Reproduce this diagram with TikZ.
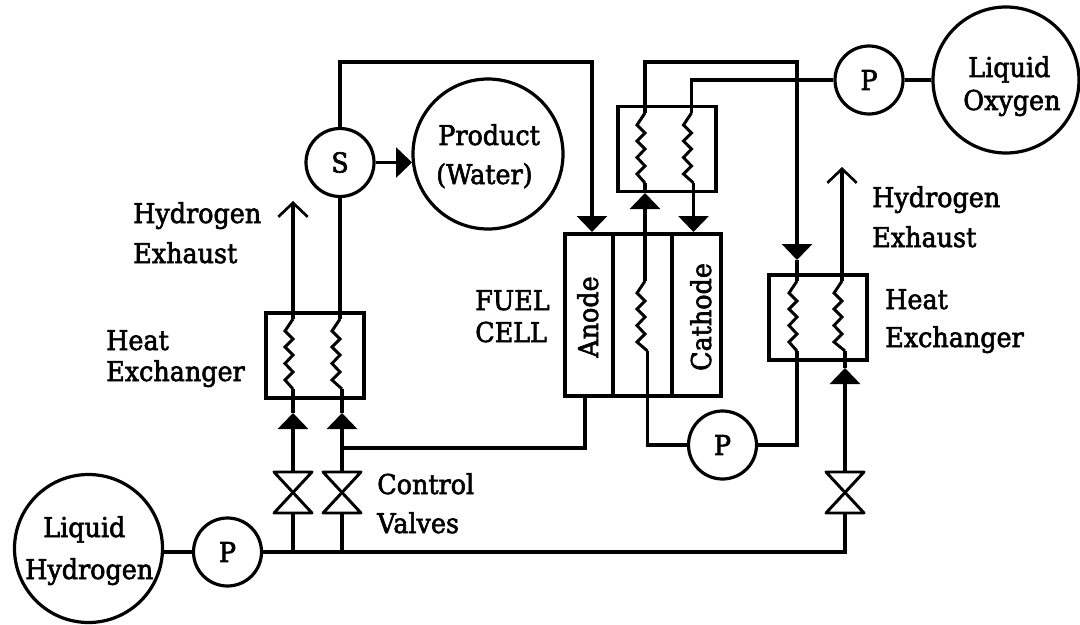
\documentclass[tikz,border=0pt]{standalone}
\usepackage{fontspec}
\setmainfont{DejaVu Serif}[FakeStretch=0.93,FakeBold=2.2]
\usetikzlibrary{arrows.meta}
\tikzset{
  wire/.style={line width=2.4pt,line join=miter},
  flow/.style={wire,-{Triangle[length=12pt,width=22.5pt,sep=0pt]}},
  vent/.style={wire,-{Straight Barb[length=10.5pt,width=22pt,line width=2pt]}},
  round/.style={draw,circle,line width=2.4pt,inner sep=0pt,minimum size=#1*0.75pt},
  boxed/.style={draw,rectangle,line width=2.4pt,inner sep=0pt},
  lbl/.style={inner sep=0pt,anchor=base west,font=\fontsize{20.5}{24}\selectfont},
  mid/.style={inner sep=0pt,align=center,font=\fontsize{20.5}{24}\selectfont},
  vlbl/.style={inner sep=0pt,rotate=90,anchor=base,font=\fontsize{20.5}{24}\selectfont},
}
\newcommand{\coilpath}[4]{% name, x in, x out, y start
  \coordinate (#1-in) at (#2,#4);
  \coordinate (#1-out) at (#3,#4+70);
  \draw[wire,line width=2.2pt] (#1-in) -- (#2-8,#4+12) -- (#2,#4+20) -- (#2-8,#4+28) -- (#2,#4+36)
    -- (#2-8,#4+44.5) -- (#2,#4+53) -- (#2-8,#4+61) -- (#1-out);}
\newcommand{\valvepath}[2]{% name, x
  \coordinate (#1-t) at (#2,472);
  \coordinate (#1-b) at (#2,513);
  \draw[wire,line width=2.2pt,line join=round] (#2-19,472) -- (#2+19,472) -- (#2-19,513) -- (#2+19,513) -- cycle;}
\begin{document}
\begin{tikzpicture}[x=0.75pt,y=-0.75pt]
\useasboundingbox (0,0) rectangle (1080,624);
% round items
\node[round=68] (S) at (340,162.5) {};
\node[round=150,mid] (water) at (488,154) {};
\node[round=68] (PO) at (869,80) {};
\node[round=146] (LO) at (1006,80) {};
\node[round=148] (LH) at (88.5,548.5) {};
\node[round=68] (PH) at (227.5,552) {};
\node[round=68] (PC) at (722.5,445) {};
% boxes
\node[boxed,minimum width=73.5pt,minimum height=63.75pt] (hxL) at (315,355.5) {};
\node[boxed,minimum width=73.5pt,minimum height=63.75pt] (hxT) at (667,149) {};
\node[boxed,minimum width=73.5pt,minimum height=63.75pt] (hxR) at (818,317.5) {};
\node[boxed,minimum width=36pt,minimum height=121.5pt] (anode) at (589,315) {};
\node[boxed,minimum width=44.25pt,minimum height=121.5pt] (middle) at (642.5,315) {};
\node[boxed,minimum width=36.75pt,minimum height=121.5pt] (cathode) at (696.5,315) {};
% coils and valves
\coilpath{cLa}{293}{293}{319}
\coilpath{cLb}{340}{342}{319}
\coilpath{cTa}{645}{645}{113}
\coilpath{cTb}{691.5}{693.5}{113}
\coilpath{cM}{645}{647.5}{281}
\coilpath{cRa}{797}{797}{281}
\coilpath{cRb}{842}{845}{281}
\valvepath{v1}{293}
\valvepath{v2}{342}
\valvepath{v3}{845}
% helper points
\coordinate (tipL1) at (293,413);
\coordinate (tipL2) at (342,413);
\coordinate (tipA) at (592,232);
\coordinate (tipC) at (693.5,232);
\coordinate (tipM) at (645,193);
\coordinate (tipR1) at (797,260);
\coordinate (tipR2) at (845,368);
\coordinate (tipW) at (412,162.5);
\coordinate (ventL) at (293,201);
\coordinate (ventR) at (842,167);
\coordinate (j1) at (293,552);
\coordinate (j2) at (342,552);
\coordinate (j3) at (845,552);
\coordinate (j4) at (342,448);
\coordinate (j5) at (585,448);
\coordinate (j6) at (585,396);
\coordinate (t1) at (340,62);
\coordinate (t2) at (592,62);
\coordinate (t3) at (645,62);
\coordinate (t4) at (797,62);
\coordinate (o1) at (691.5,80);
\coordinate (p1) at (647.5,445);
\coordinate (p2) at (797,445);
% connectors
\draw[wire] (LH.east |- PH.west) -- (PH.west);
\draw[wire] (PH.east) -- (j3) -- (v3-b);
\draw[wire] (j1) -- (v1-b);
\draw[wire] (j2) -- (v2-b);
\draw[flow] (v1-t) -- (tipL1);
\draw[flow] (v2-t) -- (tipL2);
\draw[wire] (tipL1) -- (cLa-out);
\draw[wire] (tipL2) -- (cLb-out);
\draw[vent] (cLa-in) -- (ventL);
\draw[wire] (cLb-in) -- (S.south);
\draw[wire] (j4) -- (j5) -- (j6);
\draw[flow] (S.north) -- (t1) -- (t2) -- (tipA);
\draw[wire] (tipA) -- (592,234);
\draw[flow] (S.east) -- (tipW);
\draw[wire] (LO.west) -- (PO.east);
\draw[wire] (PO.west) -- (o1) -- (cTb-in);
\draw[flow] (cTb-out) -- (tipC);
\draw[wire] (tipC) -- (693.5,234);
\draw[flow] (cM-in) -- (tipM);
\draw[wire] (tipM) -- (cTa-out);
\draw[flow] (cTa-in) -- (t3) -- (t4) -- (tipR1);
\draw[wire] (tipR1) -- (cRa-in);
\draw[wire] (cM-out) -- (p1) -- (PC.west);
\draw[wire] (PC.east) -- (p2) -- (cRa-out);
\draw[vent] (cRb-in) -- (ventR);
\draw[flow] (v3-t) -- (tipR2);
\draw[wire] (tipR2) -- (cRb-out);
% labels
\node[mid] (sT) at (340,162.5) {S};
\node[mid] (pT1) at (869,80) {P};
\node[mid] (pT2) at (227.5,552) {P};
\node[mid] (pT3) at (722.5,445) {P};
\node[lbl] (a1) at (133,223) {Hydrogen};
\node[lbl] (a2) at (133,263) {Exhaust};
\node[lbl] (a3) at (106,350) {Heat};
\node[lbl] (a4) at (106,381) {Exchanger};
\node[lbl] (b1) at (438,145) {Product};
\node[lbl] (b2) at (436,184) {(Water)};
\node[lbl] (c1) at (968,77) {Liquid};
\node[lbl] (c2) at (963,110) {Oxygen};
\node[lbl] (d1) at (43,537) {Liquid};
\node[lbl] (d2) at (25,579) {Hydrogen};
\node[lbl] (e1) at (475,310) {FUEL};
\node[lbl] (e2) at (475,342) {CELL};
\node[lbl] (f1) at (377,494) {Control};
\node[lbl] (f2) at (377,533) {Valves};
\node[lbl] (g1) at (872,207) {Hydrogen};
\node[lbl] (g2) at (872,247) {Exhaust};
\node[lbl] (g3) at (885,309) {Heat};
\node[lbl] (g4) at (885,347) {Exchanger};
\node[vlbl] (h1) at (598,317) {Anode};
\node[vlbl] (h2) at (711,317) {Cathode};
\end{tikzpicture}
\end{document}
